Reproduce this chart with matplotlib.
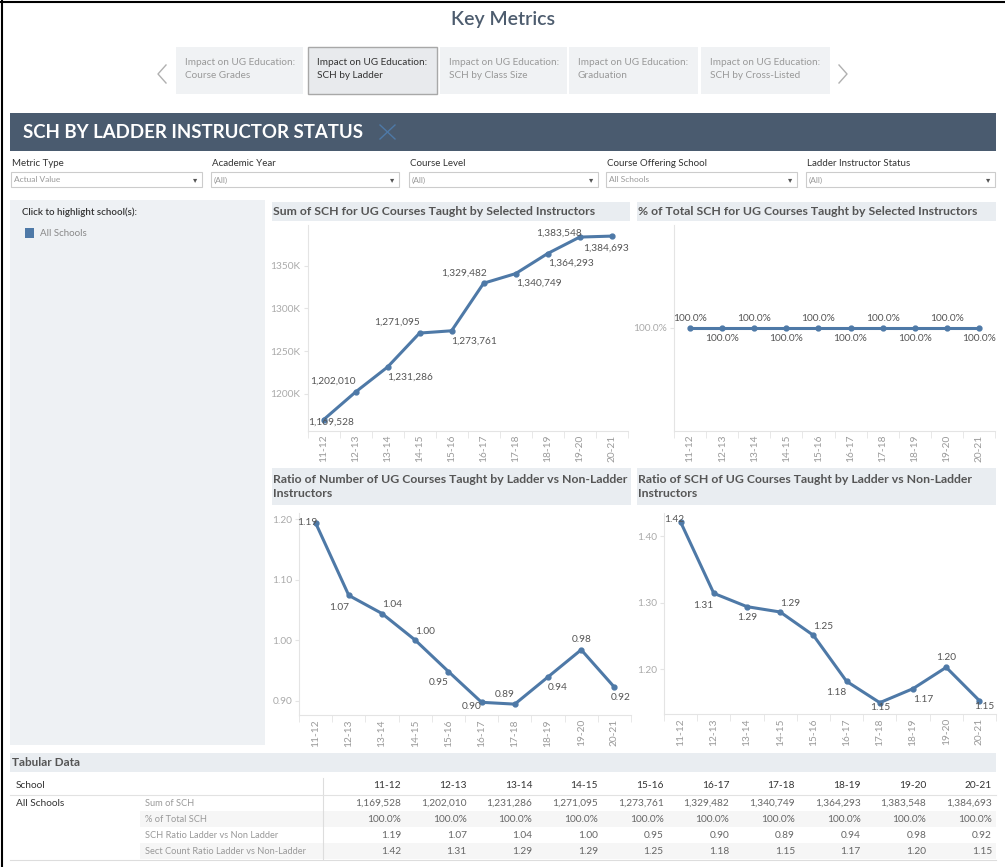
import numpy as np
import matplotlib
matplotlib.use('Agg')
import matplotlib.pyplot as plt
from matplotlib.patches import Rectangle
from matplotlib.ticker import FuncFormatter

plt.rcParams['font.family'] = ['Lato', 'DejaVu Sans']

W, H = 1005, 867

# --- dados ---
years = ['11-12', '12-13', '13-14', '14-15', '15-16', '16-17', '17-18', '18-19', '19-20', '20-21']
sum_sch = [1169528, 1202010, 1231286, 1271095, 1273761, 1329482, 1340749, 1364293, 1383548, 1384693]
pct_sch = [1.0, 1.0, 1.0, 1.0, 1.0, 1.0, 1.0, 1.0, 1.0, 1.0]
ratio_courses = [1.194, 1.074, 1.044, 1.000, 0.948, 0.897, 0.894, 0.939, 0.984, 0.922]
ratio_sch = [1.421, 1.314, 1.294, 1.286, 1.251, 1.182, 1.150, 1.171, 1.203, 1.153]

tabs = ['Impact on UG Education:\nCourse Grades', 'Impact on UG Education:\nSCH by Ladder',
        'Impact on UG Education:\nSCH by Class Size', 'Impact on UG Education:\nGraduation',
        'Impact on UG Education:\nSCH by Cross-Listed']
filter_names = ['Metric Type', 'Academic Year', 'Course Level', 'Course Offering School', 'Ladder Instructor Status']
filter_values = ['Actual Value', '(All)', '(All)', 'All Schools', '(All)']
row_names = ['Sum of SCH', '% of Total SCH', 'SCH Ratio Ladder vs Non Ladder', 'Sect Count Ratio Ladder vs Non-Ladder']

BLUE = '#4e79a7'

fig = plt.figure(figsize=(W / 100, H / 100), dpi=100)
bg = fig.add_axes([0, 0, 1, 1])
bg.set_xlim(0, W)
bg.set_ylim(H, 0)
bg.axis('off')


def box(x0, y0, x1, y1, fc, ec='none', lw=0):
    bg.add_patch(Rectangle((x0, y0), x1 - x0, y1 - y0, fc=fc, ec=ec, lw=lw))


def chart_ax(x0, y0, x1, y1):
    return fig.add_axes([x0 / W, 1 - y1 / H, (x1 - x0) / W, (y1 - y0) / H])


# moldura
bg.plot([1.5, 1.5], [0, H], color='black', lw=1.5)
bg.plot([0, W], [1.5, 1.5], color='black', lw=1.5)

# titulo e abas
bg.text(503, 19, 'Key Metrics', fontsize=14, fontweight='semibold', color='#4d5c6e', ha='center', va='center')
tab_x = [(176, 303), (308, 437), (440, 567), (569, 698), (701, 830)]
for i, (t, (a, b)) in enumerate(zip(tabs, tab_x)):
    if i == 1:
        box(a, 47, b, 94, '#e8eaed', ec='#a8a8a8', lw=1)
        col = '#333333'
    else:
        box(a, 47, b, 94, '#f0f2f4')
        col = '#999999'
    bg.text(a + 9, 69, t, fontsize=7.2, color=col, va='center', linespacing=1.5)
bg.plot([166, 158, 166], [65, 74, 83], color='#b0b0b0', lw=1)
bg.plot([839, 847, 839], [65, 74, 83], color='#b0b0b0', lw=1)

# barra de cabecalho
box(10, 113, 996, 151, '#4a5b6f')
bg.text(23, 132, 'SCH BY LADDER INSTRUCTOR STATUS', fontsize=13.4, fontweight='bold', color='white', va='center')
bg.plot([380, 395], [125, 139], color=BLUE, lw=1)
bg.plot([380, 395], [139, 125], color=BLUE, lw=1)

# filtros
drop_x = [(11, 202), (211, 399), (409, 598), (606, 797), (806, 995)]
for name, val, (a, b) in zip(filter_names, filter_values, drop_x):
    bg.text(a + 1, 163, name, fontsize=7, color='#333333', va='center')
    box(a, 172, b, 187, 'white', ec='#cccccc', lw=0.8)
    bg.text(a + 3, 180, val, fontsize=6, color='#999999', va='center')
    bg.text(b - 7, 180, '\u25be', fontsize=6, color='#555555', va='center', ha='center')

# painel da legenda
box(10, 200, 265, 745, '#eef1f4')
bg.text(22, 212, 'Click to highlight school(s):', fontsize=7, color='#333333', va='center', fontweight='semibold')
box(25, 228, 34, 238, BLUE)
bg.text(40, 233, 'All Schools', fontsize=7, color='#888888', va='center')

# barras de titulo dos graficos
titles = [((272, 202, 630, 221), 'Sum of SCH for UG Courses Taught by Selected Instructors'),
          ((637, 202, 996, 221), '% of Total SCH for UG Courses Taught by Selected Instructors'),
          ((272, 468, 631, 505), 'Ratio of Number of UG Courses Taught by Ladder vs Non-Ladder\nInstructors'),
          ((637, 468, 996, 505), 'Ratio of SCH of UG Courses Taught by Ladder vs Non-Ladder\nInstructors')]
for (a, b, c, d), t in titles:
    box(a, b, c, d, '#e9edf1')
    bg.text(a + 1, (b + d) / 2, t, fontsize=8.8, fontweight='bold', color='#555555', va='center', linespacing=1.3)


def draw_chart(ax, vals, ylim, yticks, fmt, labels, place):
    x = np.arange(len(vals))
    ax.set_facecolor('none')
    ax.plot(x, vals, color=BLUE, lw=2.2, marker='o', ms=3.5, solid_capstyle='round')
    ax.set_xlim(-0.5, len(vals) - 0.5)
    ax.set_ylim(*ylim)
    for s in ['top', 'right']:
        ax.spines[s].set_visible(False)
    for s in ['left', 'bottom']:
        ax.spines[s].set_color('#e4e4e4')
    ax.set_xticks(x)
    ax.set_xticklabels(years, rotation=90, fontsize=7.3, color='#9a9a9a')
    ax.tick_params(axis='x', length=0, pad=3)
    ax.set_xticks(np.arange(-0.5, len(vals), 1), minor=True)
    ax.tick_params(axis='x', which='minor', length=5, color='#e4e4e4')
    ax.set_yticks(yticks)
    ax.yaxis.set_major_formatter(fmt)
    ax.tick_params(axis='y', length=3, color='#e4e4e4', labelsize=7.3, labelcolor='#aaaaaa', pad=2)
    for i, (v, lab, (ha, dx, dy)) in enumerate(zip(vals, labels, place)):
        ax.annotate(lab, (i, v), xytext=(dx * 0.72, dy * 0.72), textcoords='offset points',
                    ha=ha, va='center', fontsize=7.3, color='#555555')


# grafico 1
ax1 = chart_ax(307.5, 225, 627.7, 430.7)
place1 = [('center', 8, -2), ('right', 0, 11), ('left', 0, -10), ('right', 0, 11), ('left', 0, -10),
          ('right', 3, 10), ('left', 0, -10), ('left', 0, -10), ('right', 2, 4), ('center', -6, -12)]
draw_chart(ax1, sum_sch, (1156700, 1397700), [1200000, 1250000, 1300000, 1350000],
           FuncFormatter(lambda v, p: f'{v / 1000:.0f}K'), [f'{v:,}' for v in sum_sch], place1)

# grafico 2
ax2 = chart_ax(674, 225, 995, 430.7)
place2 = [('center', 0, 9.5) if i % 2 == 0 else ('center', 0, -11) for i in range(len(pct_sch))]
draw_chart(ax2, pct_sch, (0.5, 1.5), [1.0], FuncFormatter(lambda v, p: f'{v * 100:.1f}%'),
           [f'{v * 100:.1f}%' for v in pct_sch], place2)

# grafico 3
ax3 = chart_ax(299, 513, 631, 715)
place3 = [('center', -8, 0), ('right', 0, -12), ('left', 0, 9), ('left', 0, 9), ('right', 0, -11),
          ('right', 0, -4), ('right', 0, 10), ('left', 0, -11), ('center', 0, 10), ('center', 6, -10)]
draw_chart(ax3, ratio_courses, (0.876, 1.2104), [0.9, 1.0, 1.1, 1.2],
           FuncFormatter(lambda v, p: f'{v:.2f}'), [f'{v:.2f}' for v in ratio_courses], place3)

# grafico 4
ax4 = chart_ax(664, 513, 996, 714)
place4 = [('center', -6, 2), ('right', 0, -12), ('center', 0, -11), ('left', 0, 9), ('left', 0, 9),
          ('right', 0, -11), ('center', 0, -5), ('left', 0, -11), ('center', 0, 10), ('center', 5, -6)]
draw_chart(ax4, ratio_sch, (1.133, 1.4345), [1.2, 1.3, 1.4],
           FuncFormatter(lambda v, p: f'{v:.2f}'), [f'{v:.2f}' for v in ratio_sch], place4)

# tabela
box(10, 753, 996, 772, '#e9edf1')
bg.text(12, 762, 'Tabular Data', fontsize=8.5, fontweight='bold', color='#555555', va='center')
col_right = np.linspace(401, 992, len(years))
row_y = [803, 819, 835, 851]
for k in (1, 3):
    box(140, row_y[k] - 8, 996, row_y[k] + 8, '#f6f6f6')
bg.plot([323, 323], [778, 859], color='#dddddd', lw=0.8)
bg.plot([10, 996], [795, 795], color='#e2e2e2', lw=0.8)
bg.plot([10, 996], [859.5, 859.5], color='#dddddd', lw=0.8)
bg.text(16, 786, 'School', fontsize=7.3, color='#333333', va='center')
bg.text(16, row_y[0], 'All Schools', fontsize=7.3, color='#333333', va='center')
for xr, yr in zip(col_right, years):
    bg.text(xr, 786, yr, fontsize=7.3, color='#333333', va='center', ha='right')
table_rows = [[f'{v:,}' for v in sum_sch],
              [f'{v * 100:.1f}%' for v in pct_sch],
              [f'{v:.2f}' for v in ratio_courses],
              [f'{v:.2f}' for v in ratio_sch]]
for name, vals, yy in zip(row_names, table_rows, row_y):
    bg.text(145, yy, name, fontsize=6.7, color='#999999', va='center')
    for xr, t in zip(col_right, vals):
        bg.text(xr, yy, t, fontsize=7.3, color='#666666', va='center', ha='right')

fig.savefig('out.png', dpi=100)
